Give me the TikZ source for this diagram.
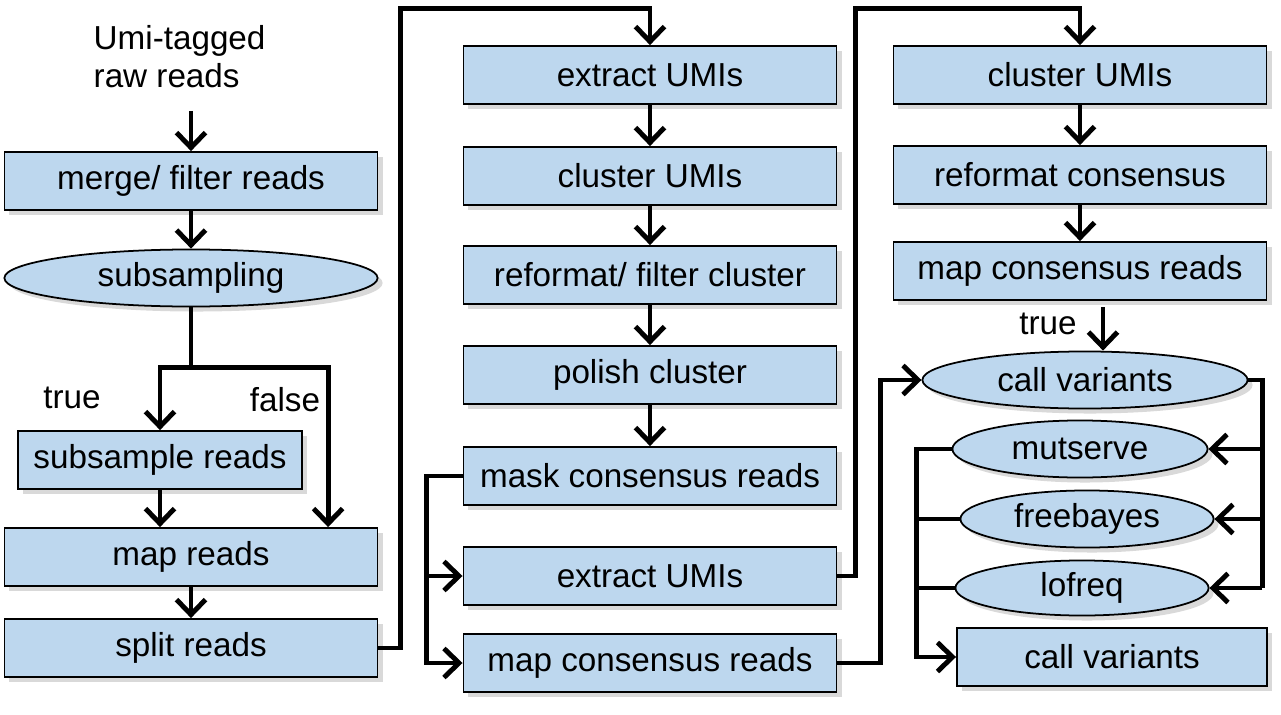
\documentclass[tikz,border=0pt]{standalone}
\usepackage{fontspec}
\setmainfont{Liberation Sans}
\usetikzlibrary{shapes.geometric,arrows.meta,shadows}

\definecolor{boxblue}{RGB}{189,215,238}

\tikzset{
  every node/.style={font=\fontsize{9.45}{10.8}\selectfont},
  stepbox/.style={draw, line width=0.5pt, fill=boxblue, inner sep=0pt,
    minimum width=3.73cm, minimum height=0.58cm,
    drop shadow={shadow xshift=0.05cm, shadow yshift=-0.05cm, opacity=0.3}},
  decide/.style={ellipse, draw, line width=0.5pt, fill=boxblue, inner sep=0pt,
    minimum height=0.57cm,
    drop shadow={shadow xshift=0.05cm, shadow yshift=-0.05cm, opacity=0.3}},
  lbl/.style={inner sep=0pt},
  wire/.style={line width=1.4pt},
  arr/.style={wire, -{Straight Barb[length=1.5mm, width=2.9mm]}}
}

\begin{document}
\begin{tikzpicture}[x=0.01cm, y=-0.01cm]
  \useasboundingbox (0,0) rectangle (1281,715);

  % left column
  \node[lbl, anchor=west, align=left] (raw) at (93,57) {Umi-tagged\\raw reads};
  \node[stepbox] (merge) at (191,181) {merge/ filter reads};
  \node[decide, minimum width=3.73cm] (sub) at (191,278) {subsampling};
  \node[stepbox, minimum width=2.84cm] (subs) at (160,460) {subsample reads};
  \node[stepbox] (map) at (191,557) {map reads};
  \node[stepbox] (split) at (191,648) {split reads};
  \node[lbl] (true1) at (72,398) {true};
  \node[lbl] (false1) at (285,400) {false};

  % middle column
  \node[stepbox] (ext1) at (650,75) {extract UMIs};
  \node[stepbox] (clu1) at (650,176) {cluster UMIs};
  \node[stepbox] (ref1) at (650,275) {reformat/ filter cluster};
  \node[stepbox] (pol) at (650,375) {polish cluster};
  \node[stepbox] (mask) at (650,476) {mask consensus reads};
  \node[stepbox] (ext2) at (650,576) {extract UMIs};
  \node[stepbox] (map2) at (650,663) {map consensus reads};

  % right column
  \node[stepbox] (clu2) at (1080,75) {cluster UMIs};
  \node[stepbox] (refc) at (1080,175) {reformat consensus};
  \node[stepbox] (map3) at (1080,271) {map consensus reads};
  \node[decide, minimum width=3.25cm] (call) at (1085,380) {call variants};
  \node[decide, minimum width=2.55cm] (mut) at (1080,449) {mutserve};
  \node[decide, minimum width=2.53cm] (fre) at (1087,519) {freebayes};
  \node[decide, minimum width=2.53cm, minimum height=0.55cm] (lof) at (1082,588) {lofreq};
  \node[stepbox, minimum width=3.1cm] (cv) at (1112,657) {call variants};
  \node[lbl] (true2) at (1048,324) {true};

  % left flow
  \draw[arr] ([yshift=-0.22cm]raw.south -| merge.north) -- (merge.north);
  \draw[arr] (merge) -- (sub);
  \draw[wire] (sub.south) -- ++(0,60) coordinate (fork);
  \draw[arr] (fork) -| (subs.north);
  \draw[arr] (fork) -| ([xshift=1.37cm]map.north);
  \draw[arr] (subs.south) -- (subs.south |- map.north);
  \draw[arr] (map) -- (split);
  \draw[arr] (split.east) -- ++(22,0) |- ([yshift=0.37cm]ext1.north) -- (ext1.north);

  % middle flow
  \foreach \a/\b in {ext1/clu1, clu1/ref1, ref1/pol, pol/mask}
    \draw[arr] (\a) -- (\b);
  \coordinate (mb) at ([xshift=-0.36cm]mask.west);
  \draw[arr] (mask.west) -- (mb) |- (map2.west);
  \draw[arr] (mb |- ext2.west) -- (ext2.west);
  \draw[arr] (ext2.east) -- ++(18,0) |- ([yshift=0.37cm]clu2.north) -- (clu2.north);
  \draw[arr] (map2.east) -- ++(43,0) |- (call.west);

  % right flow
  \draw[arr] (clu2) -- (refc);
  \draw[arr] (refc) -- (map3);
  \coordinate (t) at (1103,307);
  \draw[arr] (t) -- (t |- call.north);
  \draw[wire] (call.east) -- ++(14,0) coordinate (rb) -- (rb |- lof.east);
  \foreach \n in {mut, fre, lof}
    \draw[arr] (rb |- \n.east) -- (\n.east);
  \coordinate (lb) at ([xshift=-0.35cm]mut.west);
  \draw[arr] (mut.west) -- (lb) |- (cv.west);
  \draw[wire] (fre.west) -- (fre.west -| lb);
  \draw[wire] (lof.west) -- (lof.west -| lb);
\end{tikzpicture}
\end{document}
